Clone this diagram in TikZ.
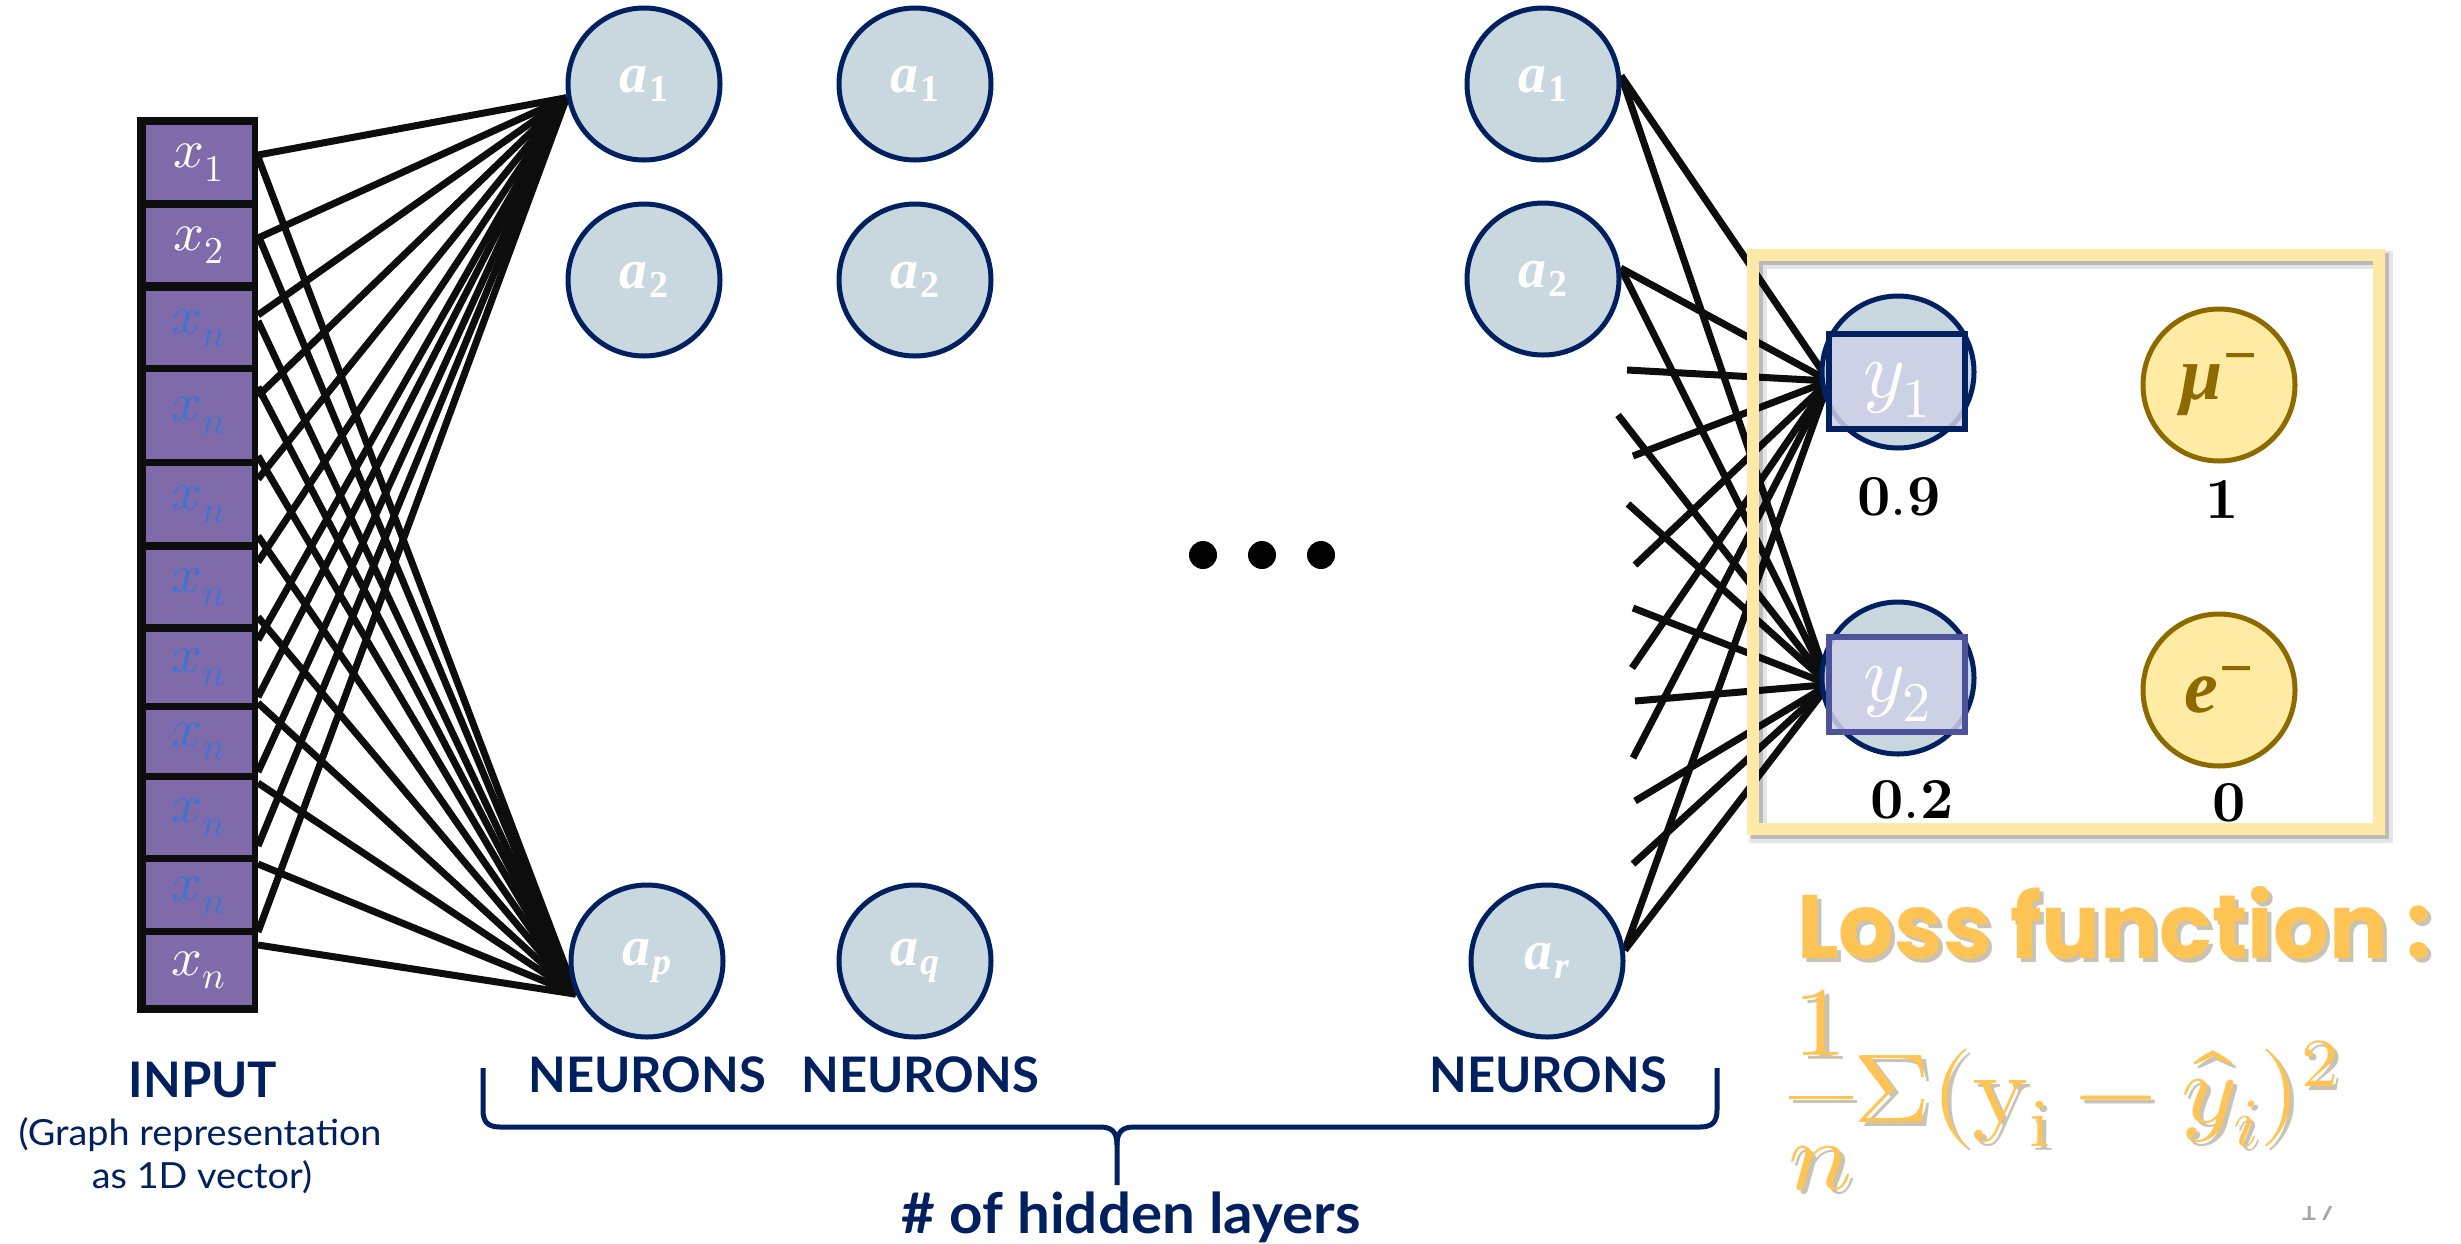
\documentclass[tikz,border=0pt]{standalone}
\usepackage{graphicx}
\usepackage{fontspec}
\usepackage{unicode-math}
\setmainfont{Lato}
\setmathfont{Latin Modern Math}
\newfontfamily\lossfont{Poppins}
\newfontfamily\labfont{Liberation Serif}
\usetikzlibrary{calc}
\pgfdeclarelayer{bg}
\pgfsetlayers{bg,main}

\definecolor{navy}{HTML}{002060}
\definecolor{nfill}{HTML}{C9D7DE}
\definecolor{cellc}{HTML}{7F6AAA}
\definecolor{xblue}{HTML}{3F73CF}
\definecolor{wirec}{HTML}{0D0D0D}
\definecolor{framec}{HTML}{FFE9A7}
\definecolor{goldfill}{HTML}{FFEBA3}
\definecolor{goldline}{HTML}{8C6A00}
\definecolor{lossc}{HTML}{FFC454}
\definecolor{lav}{HTML}{CDD0E8}
\definecolor{boxtwo}{HTML}{4E529B}
\definecolor{shade}{HTML}{C9C3B4}

% bold italic activation label: letter with a lowered index
\newcommand{\act}[2]{{\fontsize{56}{58}\selectfont\labfont\bfseries\itshape a}%
  \kern2pt\raisebox{-9pt}{\fontsize{38}{40}\selectfont\labfont\bfseries #2{#1}}}
% bold italic particle label with a raised minus
\newcommand{\particle}[1]{{\labfont\bfseries\itshape #1}\kern1pt%
  \raisebox{24pt}{\labfont\bfseries\fontsize{60}{60}\selectfont −}}
% text with a soft drop shadow behind it
\newcommand{\shadowed}[1]{\rlap{\kern4pt\raisebox{-4pt}{\color{shade}#1}}#1}

\tikzset{
  wire/.style={draw=wirec, line width=7pt},
  neuron/.style={circle, draw=navy, line width=5pt, fill=nfill, minimum size=152pt,
    inner sep=0pt, text=white},
  goldnode/.style={circle, draw=goldline, line width=5pt, fill=goldfill, minimum size=152pt,
    inner sep=0pt, text=goldline, font=\fontsize{76}{78}\selectfont},
  cell/.style={rectangle, fill=cellc, minimum width=106pt, inner sep=0pt,
    font=\fontsize{54}{56}\selectfont},
  outbox/.style={rectangle, line width=6pt, fill=lav, fill opacity=0.85, text opacity=1,
    minimum width=136pt, minimum height=95pt, inner sep=0pt, outer sep=0pt,
    text=white, font=\fontsize{80}{82}\selectfont},
  value/.style={font=\fontsize{58}{60}\selectfont, text=black, inner sep=0pt},
  title/.style={text=navy, inner sep=0pt, font=\fontsize{49}{52}\selectfont\bfseries},
  note/.style={text=navy, inner sep=0pt, font=\fontsize{36}{40}\selectfont},
  dot/.style={circle, fill=black, minimum size=28pt, inner sep=0pt},
  losstext/.style={anchor=base west, inner sep=0pt, text=lossc,
    font=\lossfont\bfseries\fontsize{90}{94}\selectfont},
  mathtext/.style={anchor=base west, inner sep=0pt, text=lossc,
    font=\fontsize{98}{100}\selectfont},
}

\begin{document}
\begin{tikzpicture}[x=1pt, y=-1pt]
\useasboundingbox (0,0) rectangle (2461,1243);

% ---------- input vector ----------
\fill[wirec] (137,117) rectangle (258,1013);
\foreach \i/\cy/\h/\lab/\col in {
  1/162.5/75/x_1/white, 2/245/74/x_2/white, 3/328/74/x_n/xblue,
  4/415.5/87/x_n/xblue, 5/504/76/x_n/xblue, 6/587/74/x_n/xblue,
  7/667.5/71/x_n/xblue, 8/741.5/63/x_n/xblue, 9/817.5/75/x_n/xblue,
  10/895/66/x_n/xblue, 11/970/70/x_n/white}
  \node[cell, minimum height=\h pt, text=\col] (c\i) at (199,\cy) {$\lab$};

% ---------- hidden layers ----------
\node[neuron] (h1a) at (644,84)  {\act{1}{}};
\node[neuron] (h1b) at (644,280) {\act{2}{}};
\node[neuron] (h1p) at (647,961) {\act{p}{\itshape}};
\node[neuron] (h2a) at (915,84)  {\act{1}{}};
\node[neuron] (h2b) at (915,280) {\act{2}{}};
\node[neuron] (h2q) at (915,961) {\act{q}{\itshape}};
\node[neuron] (h3a) at (1543,84)  {\act{1}{}};
\node[neuron] (h3b) at (1543,279) {\act{2}{}};
\node[neuron] (h3r) at (1547,961) {\act{r}{\itshape}};

\node[dot] (d1) at (1203,555) {};
\node[dot] (d2) at (1262,555) {};
\node[dot] (d3) at (1321,555) {};

% ---------- output layer ----------
\node[neuron] (o1c) at (1898,372) {};
\node[outbox, draw=navy] (y1box) at (1897,381)
  {\raisebox{-9pt}[\height][\depth]{$y_1$}};
\node[neuron] (o2c) at (1898,678) {};
\node[outbox, draw=boxtwo] (y2box) at (1897,684.5)
  {\raisebox{-9pt}[\height][\depth]{$y_2$}};

% ---------- connections ----------
\begin{pgfonlayer}{bg}
  \fill[white] (0,0) rectangle (2461,1243);
  \foreach \i/\yu/\yd in {1/155/157, 2/238/235, 3/315/321, 4/396/387, 5/479/456,
      6/562/536, 7/640/617, 8/697/703, 9/772/783, 10/846/864, 11/932/945} {
    \coordinate (u\i) at (258,\yu);
    \coordinate (l\i) at (258,\yd);
    \draw[wire] (u\i) -- (h1a.190);
    \draw[wire] (l\i) -- (h1p.205);
  }
  \foreach \n/\xx/\yy/\t in {1/1627/370/y1box, 2/1618/415/y2box, 3/1633/456/y1box,
      4/1628/504/y2box, 5/1635/565/y1box, 6/1633/608/y2box, 7/1632/668/y1box,
      8/1635/701/y2box, 9/1633/758/y1box, 10/1635/801/y2box, 11/1633/864/y2box} {
    \coordinate (f\n) at (\xx,\yy);
    \draw[wire] (f\n) -- (\t.west);
  }
  \foreach \s/\a in {h3a/6, h3b/8, h3r/8} {
    \draw[wire] (\s.\a) -- (y1box.west);
    \draw[wire] (\s.\a) -- (y2box.west);
  }
\end{pgfonlayer}

% ---------- result frame ----------
\draw[black, opacity=0.10, line width=18pt] (1758,260) rectangle (2384,834);
\draw[black, opacity=0.18, line width=12pt] (1757,259) rectangle (2383,833);
\draw[framec, line width=12pt] (1753,255) rectangle (2379,829);

\node[goldnode] (mu) at (2219,385) {\particle{μ}};
\node[goldnode] (el) at (2219,690) {\particle{e}};

\node[value] (v1) at (1899,497) {$\symbf{0.9}$};
\node[value] (v2) at (2222,499) {$\symbf{1}$};
\node[value] (v3) at (1912,800) {$\symbf{0.2}$};
\node[value] (v4) at (2229,803) {$\symbf{0}$};

% ---------- captions ----------
\node[title, anchor=base] (inp) at (203,1097) {INPUT};
\node[note, anchor=base] (inp1) at (200,1145) {\scalebox{1.05}[1]{(Graph representation}};
\node[note, anchor=base] (inp2) at (202,1188) {\scalebox{1.05}[1]{as 1D vector)}};

\node[title, anchor=base] (n1) at (647,1092) {NEURONS};
\node[title, anchor=base] (n2) at (920,1092) {NEURONS};
\node[title, anchor=base] (n3) at (1548,1092) {NEURONS};

\draw[navy, line width=5pt]
  (483,1068) -- (483,1110) .. controls (483,1122) and (488,1127) .. (500,1127)
  -- (1100,1127) .. controls (1112,1127) and (1117,1132) .. (1117,1145) -- (1117,1185);
\draw[navy, line width=5pt]
  (1717,1068) -- (1717,1110) .. controls (1717,1122) and (1712,1127) .. (1700,1127)
  -- (1134,1127) .. controls (1122,1127) and (1117,1132) .. (1117,1145);
\node[title, anchor=base, font=\fontsize{56}{58}\selectfont\bfseries] (hl) at (1131,1233)
  {\scalebox{1.04}[1]{\# of hidden layers}};

% ---------- loss ----------
\node[losstext] (loss) at (1797,958)
  {\scalebox{0.97}[1]{\shadowed{Loss function :}}};
\node[mathtext] (formula) at (1787,1122)
  {\scalebox{1.09}[1]{\shadowed{$\dfrac{1}{n}\Sigma(\symup{y}_{\symup{i}}-\widehat{y}_i)^2$}}};

% ---------- page number ----------
\begin{scope}
  \clip (2290,1206) rectangle (2350,1243);
  \node[anchor=base, inner sep=0pt, text=black!35, font=\fontsize{34}{36}\selectfont]
    (pg) at (2318,1220) {17};
\end{scope}
\end{tikzpicture}
\end{document}
